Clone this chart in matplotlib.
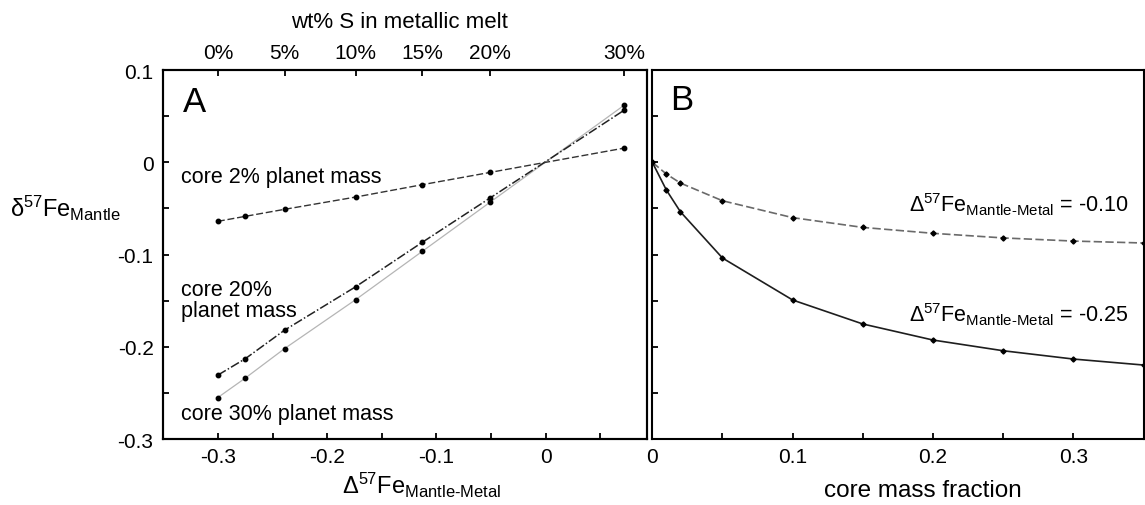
import numpy as np
import matplotlib
matplotlib.use('Agg')
import matplotlib.pyplot as plt
from matplotlib.ticker import MultipleLocator, FuncFormatter

plt.rcParams['font.family'] = ['Liberation Sans', 'DejaVu Sans']
plt.rcParams['mathtext.fontset'] = 'custom'
plt.rcParams['mathtext.rm'] = 'Liberation Sans'
plt.rcParams['mathtext.it'] = 'Liberation Sans:italic'
plt.rcParams['axes.unicode_minus'] = False

# panel A: mantle d57Fe vs fractionation factor (one point per wt% S)
wt_s = [0, 2, 5, 10, 15, 20, 30]
delta_mm = [-0.300, -0.275, -0.239, -0.174, -0.113, -0.051, 0.072]
core_2 = [-0.064, -0.0586, -0.051, -0.0377, -0.0243, -0.011, 0.0154]
core_20 = [-0.2307, -0.213, -0.182, -0.135, -0.0868, -0.0388, 0.0566]
core_30 = [-0.255, -0.234, -0.202, -0.149, -0.0966, -0.0434, 0.062]
top_ticks = [0, 5, 10, 15, 20, 30]

# panel B: mantle d57Fe vs core mass fraction
core_frac = [0, 0.01, 0.02, 0.05, 0.10, 0.15, 0.20, 0.25, 0.30, 0.35]
fe_010 = [0, -0.0127, -0.0225, -0.0417, -0.060, -0.0706, -0.077, -0.082, -0.0854, -0.0875]
fe_025 = [0, -0.030, -0.0536, -0.1038, -0.1493, -0.1753, -0.1927, -0.2043, -0.2133, -0.2198]


def fmt(v, pos):
    if abs(v) < 1e-9:
        return '0'
    return f'{v:g}'


def style(ax):
    for s in ax.spines.values():
        s.set_linewidth(1.5)
    ax.xaxis.set_major_locator(MultipleLocator(0.1))
    ax.xaxis.set_minor_locator(MultipleLocator(0.05))
    ax.yaxis.set_major_locator(MultipleLocator(0.1))
    ax.yaxis.set_minor_locator(MultipleLocator(0.05))
    ax.tick_params(which='both', direction='in', length=4, width=1.3,
                   top=False, right=False, labelsize=15)
    ax.tick_params(axis='x', pad=6)
    ax.tick_params(axis='y', pad=7)
    ax.xaxis.set_major_formatter(FuncFormatter(fmt))
    ax.yaxis.set_major_formatter(FuncFormatter(fmt))
    ax.set_ylim(-0.3, 0.1)


fig = plt.figure(figsize=(11.45, 5.06), dpi=100)
axA = fig.add_axes([0.1426, 0.1304, 0.4227, 0.7292])
axB = fig.add_axes([0.5697, 0.1304, 0.4290, 0.7292])

# ---- panel A
style(axA)
axA.set_xlim(-0.35, 0.093)
axA.plot(delta_mm, core_30, color='#b5b5b5', lw=0.9, marker='o', ms=3.2,
         mfc='black', mec='black')
axA.plot(delta_mm, core_20, color='#222222', lw=1.1, ls=(0, (6, 1.5, 1, 1.5)),
         marker='o', ms=3.2, mfc='black', mec='black')
axA.plot(delta_mm, core_2, color='#333333', lw=1.0, ls=(0, (5, 2)),
         marker='o', ms=3.2, mfc='black', mec='black')

axA.text(0.0407, 0.889, 'A', transform=axA.transAxes, fontsize=25, va='baseline')
axA.text(-0.334, -0.0214, 'core 2% planet mass', fontsize=15.5, va='baseline')
axA.text(-0.334, -0.1266, 'core 20%\nplanet mass', fontsize=15.5, va='top',
         linespacing=1.0)
axA.text(-0.334, -0.278, 'core 30% planet mass', fontsize=15.5, va='baseline')

topA = axA.twiny()
topA.set_xlim(axA.get_xlim())
topA.set_xticks([delta_mm[wt_s.index(s)] for s in top_ticks])
topA.set_xticklabels([f'{s}%' for s in top_ticks])
topA.tick_params(direction='in', length=4, width=1.3, labelsize=15, pad=6)
topA.xaxis.set_minor_locator(plt.NullLocator())
for s in topA.spines.values():
    s.set_linewidth(1.5)

fig.text(0.3493, 1 - 22 / 506, 'wt% S in metallic melt', fontsize=16,
         ha='center', va='center')
fig.text(10 / 1145, 1 - 217 / 506, 'δ$^{57}$Fe$_{\\mathrm{Mantle}}$',
         fontsize=17, ha='left', va='baseline')
fig.text(422 / 1145, 1 - 494 / 506, 'Δ$^{57}$Fe$_{\\mathrm{Mantle‐Metal}}$',
         fontsize=17, ha='center', va='baseline')

# ---- panel B
style(axB)
axB.set_xlim(0, 0.35)
axB.tick_params(axis='y', labelleft=False)
axB.plot(core_frac, fe_010, color='#6a6a6a', lw=1.2, ls=(0, (5, 2)),
         marker='D', ms=2.6, mfc='black', mec='black')
axB.plot(core_frac, fe_025, color='#1e1e1e', lw=1.2,
         marker='D', ms=2.6, mfc='black', mec='black')
axB.text(0.036, 0.894, 'B', transform=axB.transAxes, fontsize=25, va='baseline')
axB.text(0.183, -0.0528, 'Δ$^{57}$Fe$_{\\mathrm{Mantle‐Metal}}$ = -0.10',
         fontsize=15.5, va='baseline')
axB.text(0.183, -0.173, 'Δ$^{57}$Fe$_{\\mathrm{Mantle‐Metal}}$ = -0.25',
         fontsize=15.5, va='baseline')
fig.text(923 / 1145, 1 - 497 / 506, 'core mass fraction', fontsize=17.5,
         ha='center', va='baseline')

fig.savefig('out.png', dpi=100)
